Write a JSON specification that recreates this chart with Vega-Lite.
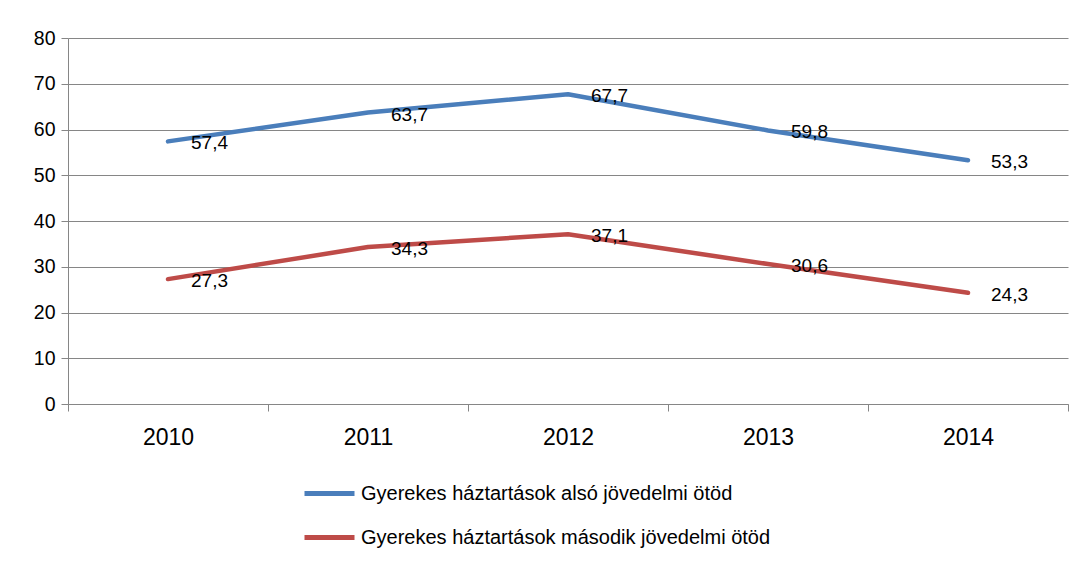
{
  "$schema": "https://vega.github.io/schema/vega-lite/v6.json",
  "width": 1000,
  "height": 366,
  "autosize": "none",
  "padding": {"left": 68, "top": 38, "right": 15, "bottom": 160},
  "background": "white",
  "config": {
    "view": {"stroke": null},
    "font": "Liberation Sans",
    "locale": {"number": {"decimal": ",", "thousands": " ", "grouping": [3], "currency": ["", " Ft"]}}
  },
  "data": {
    "values": [
      {"Ev": 2010, "Sorozat": "Gyerekes háztartások alsó jövedelmi ötöd", "Ertek": 57.4},
      {"Ev": 2011, "Sorozat": "Gyerekes háztartások alsó jövedelmi ötöd", "Ertek": 63.7},
      {"Ev": 2012, "Sorozat": "Gyerekes háztartások alsó jövedelmi ötöd", "Ertek": 67.7},
      {"Ev": 2013, "Sorozat": "Gyerekes háztartások alsó jövedelmi ötöd", "Ertek": 59.8},
      {"Ev": 2014, "Sorozat": "Gyerekes háztartások alsó jövedelmi ötöd", "Ertek": 53.3},
      {"Ev": 2010, "Sorozat": "Gyerekes háztartások második jövedelmi ötöd", "Ertek": 27.3},
      {"Ev": 2011, "Sorozat": "Gyerekes háztartások második jövedelmi ötöd", "Ertek": 34.3},
      {"Ev": 2012, "Sorozat": "Gyerekes háztartások második jövedelmi ötöd", "Ertek": 37.1},
      {"Ev": 2013, "Sorozat": "Gyerekes háztartások második jövedelmi ötöd", "Ertek": 30.6},
      {"Ev": 2014, "Sorozat": "Gyerekes háztartások második jövedelmi ötöd", "Ertek": 24.3}
    ]
  },
  "encoding": {
    "x": {
      "field": "Ev",
      "type": "quantitative",
      "scale": {"domain": [2009.5, 2014.5], "nice": false, "zero": false},
      "axis": {
        "title": null,
        "grid": false,
        "values": [2009.5, 2010, 2010.5, 2011, 2011.5, 2012, 2012.5, 2013, 2013.5, 2014, 2014.5],
        "labelExpr": "(datum.value % 1) == 0 ? ('' + datum.value) : ''",
        "tickOpacity": {"condition": {"test": "(datum.value % 1) != 0", "value": 1}, "value": 0},
        "tickSize": 7,
        "tickColor": "#868686",
        "domainColor": "#868686",
        "labelFontSize": 23,
        "labelColor": "black",
        "labelPadding": 15,
        "labelOverlap": false,
        "labelFlush": false,
        "labelBound": false
      }
    },
    "y": {
      "field": "Ertek",
      "type": "quantitative",
      "scale": {"domain": [0, 80], "nice": false},
      "axis": {
        "title": null,
        "values": [0, 10, 20, 30, 40, 50, 60, 70, 80],
        "format": "d",
        "grid": true,
        "gridColor": "#868686",
        "gridOpacity": 1,
        "tickColor": "#868686",
        "domainColor": "#868686",
        "tickSize": 7,
        "labelPadding": 6,
        "labelFontSize": 19.5,
        "labelColor": "black"
      }
    }
  },
  "layer": [
    {
      "mark": {"type": "line", "strokeWidth": 4.5, "strokeCap": "round", "strokeJoin": "round"},
      "encoding": {
        "color": {
          "field": "Sorozat",
          "type": "nominal",
          "scale": {
            "domain": ["Gyerekes háztartások alsó jövedelmi ötöd", "Gyerekes háztartások második jövedelmi ötöd"],
            "range": ["#4A7EBB", "#BE4B48"]
          },
          "legend": {
            "orient": "none",
            "legendX": 234,
            "legendY": 428,
            "direction": "vertical",
            "title": null,
            "symbolType": "stroke",
            "symbolSize": 2500,
            "symbolStrokeWidth": 5,
            "labelFontSize": 20,
            "labelColor": "black",
            "labelOffset": 4,
            "labelLimit": 600,
            "rowPadding": 6,
            "padding": 0
          }
        }
      }
    },
    {
      "mark": {"type": "text", "align": "left", "baseline": "middle", "dx": 23, "dy": 2, "fontSize": 19, "color": "black"},
      "encoding": {
        "text": {"field": "Ertek", "type": "quantitative", "format": ".1f"},
        "detail": {"field": "Sorozat", "type": "nominal"}
      }
    }
  ]
}
